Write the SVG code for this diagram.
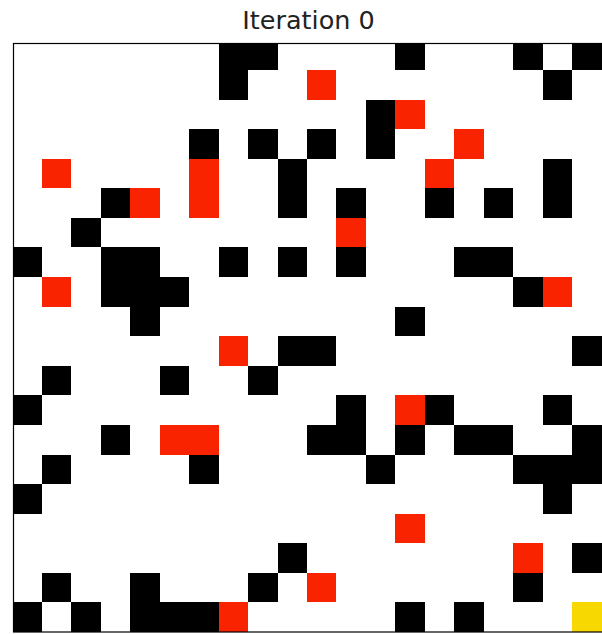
<svg xmlns="http://www.w3.org/2000/svg" width="602" height="634" viewBox="0 0 602 634">
<style>
.k{fill:#000}
.r{fill:#f92300}
.y{fill:#f7d800}
.title{font-family:"DejaVu Sans",sans-serif;font-size:25.5px;fill:#222;text-anchor:middle}
</style>
<rect width="602" height="634" fill="#fff"/>
<text class="title" x="308.5" y="29">Iteration 0</text>
<g id="grid" transform="translate(12.5,40.4) scale(29.45,29.58)" shape-rendering="crispEdges">
<g class="k">
<rect x="7" y="0.112" width="2" height="0.888"/><rect x="13" y="0.112" width="1" height="0.888"/><rect x="17" y="0.112" width="1" height="0.888"/><rect x="19" y="0.112" width="1" height="0.888"/>
<rect x="7" y="1" width="1" height="1"/><rect x="18" y="1" width="1" height="1"/>
<rect x="12" y="2" width="1" height="1"/>
<rect x="6" y="3" width="1" height="1"/><rect x="8" y="3" width="1" height="1"/><rect x="10" y="3" width="1" height="1"/><rect x="12" y="3" width="1" height="1"/>
<rect x="9" y="4" width="1" height="1"/><rect x="18" y="4" width="1" height="1"/>
<rect x="3" y="5" width="1" height="1"/><rect x="9" y="5" width="1" height="1"/><rect x="11" y="5" width="1" height="1"/><rect x="14" y="5" width="1" height="1"/><rect x="16" y="5" width="1" height="1"/><rect x="18" y="5" width="1" height="1"/>
<rect x="2" y="6" width="1" height="1"/>
<rect x="0" y="7" width="1" height="1"/><rect x="3" y="7" width="2" height="1"/><rect x="7" y="7" width="1" height="1"/><rect x="9" y="7" width="1" height="1"/><rect x="11" y="7" width="1" height="1"/><rect x="15" y="7" width="2" height="1"/>
<rect x="3" y="8" width="3" height="1"/><rect x="17" y="8" width="1" height="1"/>
<rect x="4" y="9" width="1" height="1"/><rect x="13" y="9" width="1" height="1"/>
<rect x="9" y="10" width="2" height="1"/><rect x="19" y="10" width="1" height="1"/>
<rect x="1" y="11" width="1" height="1"/><rect x="5" y="11" width="1" height="1"/><rect x="8" y="11" width="1" height="1"/>
<rect x="0" y="12" width="1" height="1"/><rect x="11" y="12" width="1" height="1"/><rect x="14" y="12" width="1" height="1"/><rect x="18" y="12" width="1" height="1"/>
<rect x="3" y="13" width="1" height="1"/><rect x="10" y="13" width="2" height="1"/><rect x="13" y="13" width="1" height="1"/><rect x="15" y="13" width="2" height="1"/><rect x="19" y="13" width="1" height="1"/>
<rect x="1" y="14" width="1" height="1"/><rect x="6" y="14" width="1" height="1"/><rect x="12" y="14" width="1" height="1"/><rect x="17" y="14" width="3" height="1"/>
<rect x="0" y="15" width="1" height="1"/><rect x="18" y="15" width="1" height="1"/>
<rect x="9" y="17" width="1" height="1"/><rect x="19" y="17" width="1" height="1"/>
<rect x="1" y="18" width="1" height="1"/><rect x="4" y="18" width="1" height="1"/><rect x="8" y="18" width="1" height="1"/><rect x="17" y="18" width="1" height="1"/>
<rect x="0" y="19" width="1" height="1"/><rect x="2" y="19" width="1" height="1"/><rect x="4" y="19" width="3" height="1"/><rect x="13" y="19" width="1" height="1"/><rect x="15" y="19" width="1" height="1"/>
</g>
<g class="r">
<rect x="10" y="1" width="1" height="1"/>
<rect x="13" y="2" width="1" height="1"/>
<rect x="15" y="3" width="1" height="1"/>
<rect x="1" y="4" width="1" height="1"/><rect x="6" y="4" width="1" height="2"/><rect x="14" y="4" width="1" height="1"/>
<rect x="4" y="5" width="1" height="1"/>
<rect x="11" y="6" width="1" height="1"/>
<rect x="1" y="8" width="1" height="1"/><rect x="18" y="8" width="1" height="1"/>
<rect x="7" y="10" width="1" height="1"/>
<rect x="13" y="12" width="1" height="1"/>
<rect x="5" y="13" width="2" height="1"/>
<rect x="13" y="16" width="1" height="1"/>
<rect x="17" y="17" width="1" height="1"/>
<rect x="10" y="18" width="1" height="1"/>
<rect x="7" y="19" width="1" height="1"/>
</g>
<rect class="y" x="19" y="19" width="1" height="1"/>
</g>
<rect id="frame" x="13.5" y="43.5" width="600" height="588.5" fill="none" stroke="#000" stroke-width="1.2"/>
</svg>
